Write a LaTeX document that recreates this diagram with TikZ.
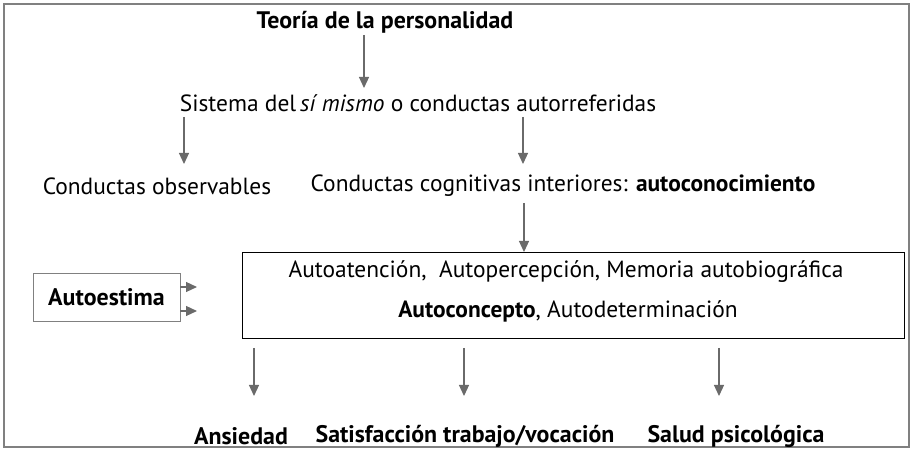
\documentclass[tikz,border=0pt]{standalone}
\usepackage{fontspec}
\setmainfont{PT Sans}
\usetikzlibrary{arrows.meta}
\definecolor{arrgray}{HTML}{6A6A6A}
\definecolor{framegray}{HTML}{808080}
\tikzset{
  lbl/.style={inner sep=0pt, font=\fontsize{23.5}{28}\selectfont},
  bl/.style={inner sep=0pt, font=\fontsize{24}{28}\selectfont\bfseries},
  arr/.style={draw=arrgray, line width=1.2pt, -{Triangle[length=11bp,width=10bp]}, arrgray},
}
\begin{document}
\begin{tikzpicture}[x=1bp,y=-1bp]
\useasboundingbox (0,0) rectangle (913,453);
\draw[framegray, line width=1.6pt] (4,4) rectangle (909,447);
\node[bl] (teoria) at (385,22) {Teoría de la personalidad};
\node[lbl] (sistema) at (418,103) {Sistema del\,\textit{sí mismo} o conductas autorreferidas};
\node[lbl] (obs) at (157,186) {Conductas observables};
\node[lbl] (cog) at (563,186) {Conductas cognitivas interiores: \textbf{autoconocimiento}};
\node[draw, line width=0.9pt, minimum width=662bp, minimum height=86bp, inner sep=0pt] (box) at (573,295) {};
\node[lbl] (l1) at (566,272) {Autoatención,\ \ Autopercepción,\ Memoria autobiográfica};
\node[lbl] (l2) at (568,311) {\textbf{Autoconcepto},\ Autodeterminación};
\node[draw=framegray, line width=0.9pt, minimum width=147bp, minimum height=48bp, inner sep=0pt, font=\fontsize{24}{28}\selectfont\bfseries] (estima) at (106.5,297) {Autoestima};
\node[bl] (ans) at (241,436) {Ansiedad};
\node[bl] (sat) at (465,436) {Satisfacción trabajo/vocación};
\node[bl] (salud) at (736,436) {Salud psicológica};
% arrow end points
\coordinate (t1) at (364,35);
\coordinate (t2) at (364,88);
\coordinate (s1a) at (184,117);
\coordinate (s1b) at (184,164);
\coordinate (s2a) at (523,117);
\coordinate (s2b) at (523,164);
\coordinate (c1) at (524,203);
\coordinate (c2) at (524,252);
\coordinate (b1a) at (254,348);
\coordinate (b1b) at (254,396);
\coordinate (b2a) at (464,348);
\coordinate (b2b) at (464,396);
\coordinate (b3a) at (719,348);
\coordinate (b3b) at (719,396);
\coordinate (e1) at (197,287);
\coordinate (e2) at (197,311);
\draw[arr] (t1) -- (t2);
\draw[arr] (s1a) -- (s1b);
\draw[arr] (s2a) -- (s2b);
\draw[arr] (c1) -- (c2);
\draw[arr] (b1a) -- (b1b);
\draw[arr] (b2a) -- (b2b);
\draw[arr] (b3a) -- (b3b);
\draw[arr] (estima.east |- e1) -- (e1);
\draw[arr] (estima.east |- e2) -- (e2);
\end{tikzpicture}
\end{document}
